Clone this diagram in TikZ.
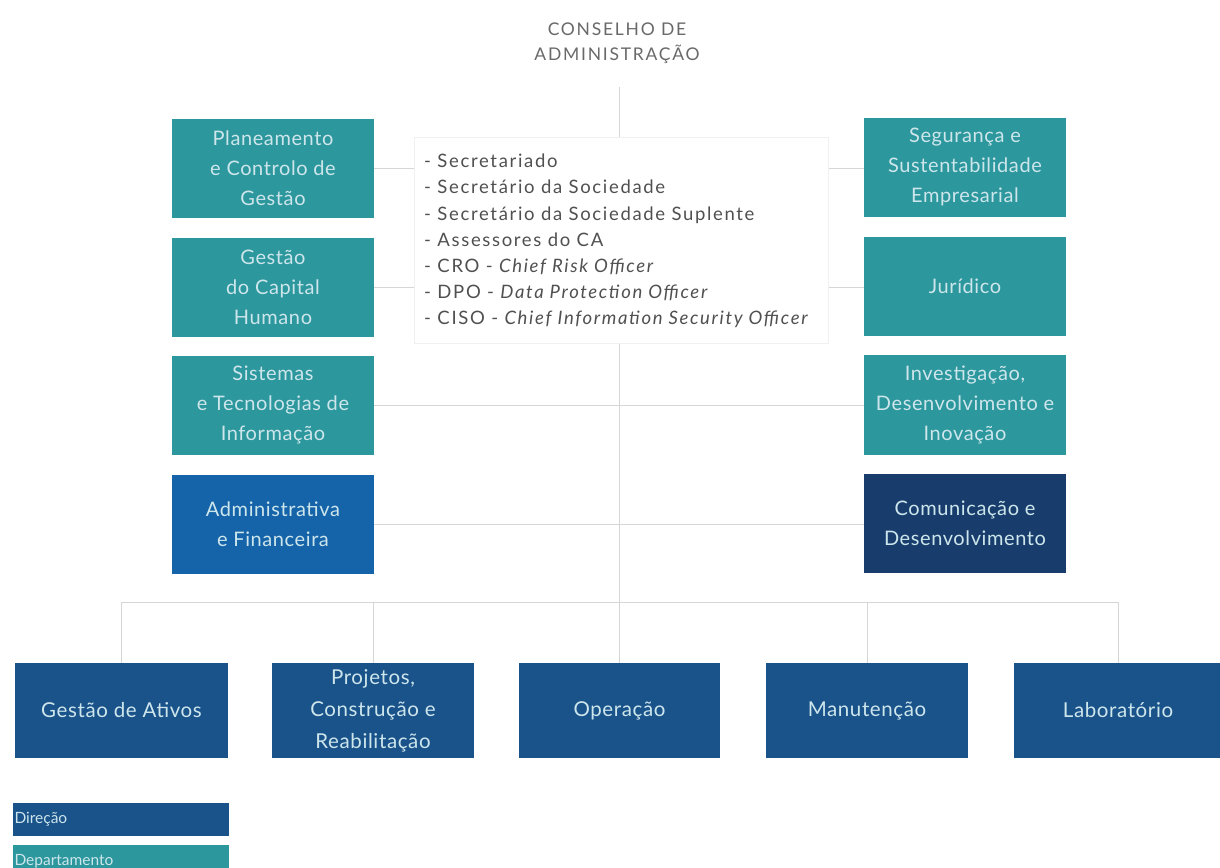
\documentclass[tikz,border=0pt]{standalone}
\usepackage{fontspec}
\setmainfont{Lato}
\newfontfamily\titlefont[LetterSpace=10]{Lato}
\newfontfamily\boxfont[LetterSpace=3]{Lato}
\newfontfamily\secfont[LetterSpace=9]{Lato}
\usetikzlibrary{backgrounds}
\definecolor{teal1}{RGB}{44,151,156}
\definecolor{adminblue}{RGB}{21,99,168}
\definecolor{navy}{RGB}{24,61,108}
\definecolor{dirblue}{RGB}{26,82,138}
\definecolor{lineg}{RGB}{214,214,214}
\definecolor{boxtxt}{RGB}{205,230,236}
\definecolor{titlegray}{RGB}{105,105,105}
\definecolor{sectxtc}{RGB}{80,80,80}
\begin{document}
\begin{tikzpicture}[x=1pt,y=-1pt,
  unitbox/.style={rectangle, inner sep=0pt, minimum width=202pt, minimum height=99pt,
    align=center, font=\boxfont\fontsize{20}{30}\selectfont, text=boxtxt},
  deptbox/.style={unitbox, fill=teal1},
  dirbox/.style={unitbox, fill=dirblue, minimum height=95pt, font=\boxfont\fontsize{20.5}{32}\selectfont},
  legbox/.style={rectangle, minimum width=216pt, minimum height=33pt, inner xsep=2pt, inner ysep=0pt,
    text width=212pt, align=left, font=\fontsize{15.5}{17}\selectfont, text=boxtxt},
  conn/.style={draw=lineg, line width=1pt}]
\useasboundingbox (0,0) rectangle (1220,867);

% title
\node[font=\titlefont\fontsize{17.5}{25}\selectfont, text=titlegray, align=center] (ca) at (617,43) {CONSELHO DE\\ADMINISTRAÇÃO};
\coordinate (catop) at (619,87);

% left column
\node[deptbox] (pcg) at (273,168) {Planeamento\\e Controlo de\\Gestão};
\node[deptbox] (gch) at (273,287) {Gestão\\do Capital\\Humano};
\node[deptbox] (sti) at (273,405) {Sistemas\\e Tecnologias de\\Informação};
\node[unitbox, fill=adminblue] (adm) at (273,524) {Administrativa\\e Financeira};

% right column
\node[deptbox] (sse) at (965,167) {Segurança e\\Sustentabilidade\\Empresarial};
\node[deptbox] (jur) at (965,286) {Jurídico};
\node[deptbox, minimum height=100pt] (idi) at (965,405) {Investigação,\\Desenvolvimento e\\Inovação};
\node[unitbox, fill=navy] (cde) at (965,523) {Comunicação e\\Desenvolvimento};

% central box
\node[draw=black!6, fill=white, line width=1pt, minimum width=414pt, minimum height=206pt, inner sep=0pt] (sec) at (621,240) {};
\node[anchor=west, align=left, inner sep=0pt, font=\secfont\fontsize{18.5}{26.2}\selectfont, text=sectxtc] (sectxt) at (424,241)
 {- Secretariado\\
  - Secretário da Sociedade\\
  - Secretário da Sociedade Suplente\\
  - Assessores do CA\\
  - CRO - \textit{Chief Risk Officer}\\
  - DPO - \textit{Data Protection Officer}\\
  - CISO - \textit{Chief Information Security Officer}};

% bottom row
\node[dirbox, minimum width=213pt] (b1) at (121.5,710.5) {Gestão de Ativos};
\node[dirbox] (b2) at (373,710.5) {Projetos,\\Construção e\\Reabilitação};
\node[dirbox, minimum width=201pt] (b3) at (619.5,710.5) {Operação};
\node[dirbox] (b4) at (867,710.5) {Manutenção};
\node[dirbox, minimum width=208pt] (b5) at (1118,710.5) {Laboratório};
\coordinate (bus) at (0,602);

% legend
\node[legbox, fill=dirblue] (legdir) at (120.5,819.5) {Direção};
\node[legbox, fill=teal1] (legdep) at (120.5,861.5) {Departamento};

% connectors
\begin{pgfonlayer}{background}
\fill[white] (0,0) rectangle (1220,867);
\draw[conn] (catop) -- (catop |- bus);
\draw[conn] (pcg.east) -- (pcg.east -| sse.west);
\draw[conn] (gch.east) -- (gch.east -| jur.west);
\draw[conn] (sti.east) -- (sti.east -| idi.west);
\draw[conn] (adm.east) -- (adm.east -| cde.west);
\draw[conn] (b1.north) -- (b1.north |- bus) -- (b5.north |- bus) -- (b5.north);
\draw[conn] (b2.north) -- (b2.north |- bus);
\draw[conn] (b3.north) -- (b3.north |- bus);
\draw[conn] (b4.north) -- (b4.north |- bus);
\end{pgfonlayer}
\end{tikzpicture}
\end{document}
